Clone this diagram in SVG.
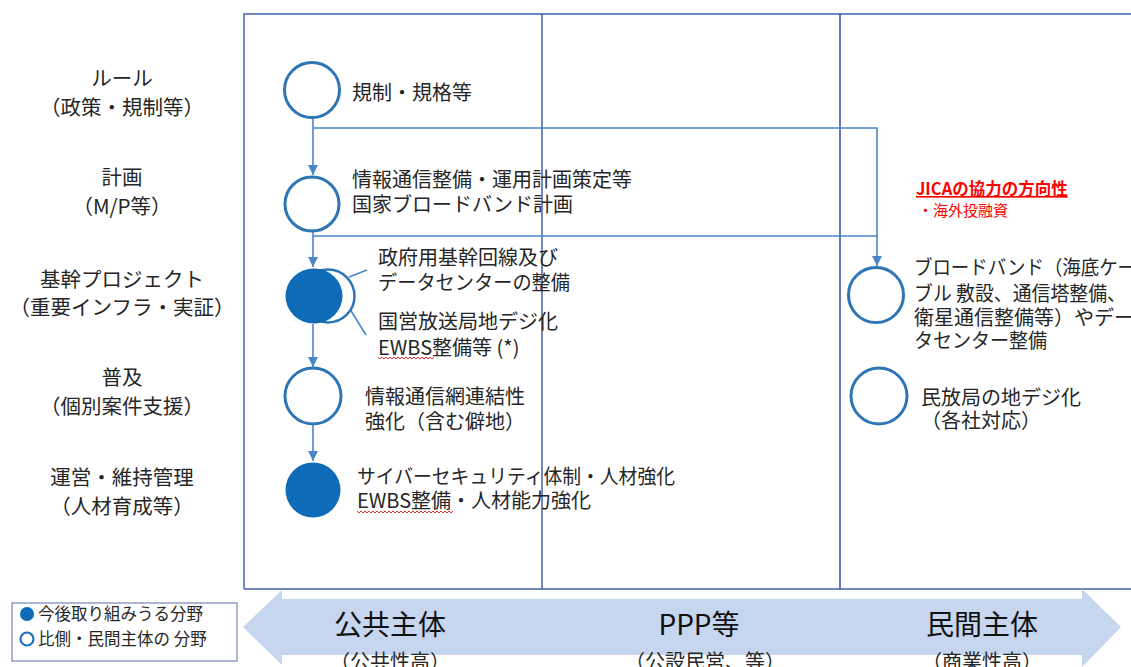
<svg xmlns="http://www.w3.org/2000/svg" width="1131" height="667" viewBox="0 0 1131 667">
<style>
text{font-family:"Noto Sans CJK JP","Noto Sans",sans-serif;fill:#262626}
.lbl{font-size:20.5px;text-anchor:middle}
.t{font-size:20px}
.big{font-size:28px;text-anchor:middle;font-weight:400;fill:#111}
.sub{font-size:20px;text-anchor:middle}
.ring{fill:#fff;stroke:#2e75b6;stroke-width:3}
.dot{fill:#0f6ab8}
.conn{fill:none;stroke:#4a86c8;stroke-width:1.6}
.wavy{fill:none;stroke:#e03030;stroke-width:1}
</style>
<defs>
<marker id="ah" viewBox="0 0 10 10" refX="10" refY="5" markerWidth="10" markerHeight="10" markerUnits="userSpaceOnUse" orient="auto">
<path d="M0,0 L10,5 L0,10 Z" fill="#4a86c8"/>
</marker>
</defs>
<rect width="1131" height="667" fill="#fff"/>
<g id="frame">
<path d="M244,589 V14 H1131" fill="none" stroke="#7088c0" stroke-width="2"/>
<path d="M244,589 H1131" fill="none" stroke="#7088c0" stroke-width="2"/>
<line x1="542" y1="14" x2="542" y2="589" stroke="#3a55a5" stroke-width="1.4"/>
<line x1="840" y1="14" x2="840" y2="589" stroke="#3a55a5" stroke-width="1.6"/>
</g>
<g id="rowlabels">
<text class="lbl" x="122" y="86">ルール</text>
<text class="lbl" x="122" y="115">（政策・規制等）</text>
<text class="lbl" x="122" y="185">計画</text>
<text class="lbl" x="122" y="214">（M/P等）</text>
<text class="lbl" x="122" y="287">基幹プロジェクト</text>
<text class="lbl" x="122" y="315">（重要インフラ・実証）</text>
<text class="lbl" x="122" y="385">普及</text>
<text class="lbl" x="122" y="414">（個別案件支援）</text>
<text class="lbl" x="122" y="485">運営・維持管理</text>
<text class="lbl" x="122" y="514">（人材育成等）</text>
</g>
<g id="arrow">
<path d="M243,627 L282,590 L282,599 L1082,599 L1082,589 L1121,627 L1082,667 L1082,655 L282,655 L282,665 Z" fill="#c6d6ee"/>
<text class="big" x="390" y="635">公共主体</text>
<text class="sub" x="390" y="669">（公共性高）</text>
<text class="big" x="699" y="635">PPP等</text>
<text class="sub" x="705" y="669">（公設民営、等）</text>
<text class="big" x="982" y="635">民間主体</text>
<text class="sub" x="982" y="669">（商業性高）</text>
</g>
<g id="legend">
<rect x="12" y="603" width="225" height="58" fill="#fff" stroke="#5b6fa8" stroke-width="1"/>
<circle cx="27" cy="614" r="7" class="dot"/>
<circle cx="27" cy="639" r="6.5" fill="#fff" stroke="#1f6fc0" stroke-width="2.2"/>
<text x="38" y="620" style="font-size:16.5px">今後取り組みうる分野</text>
<text x="38" y="645" style="font-size:16.5px">比側・民間主体の 分野</text>
</g>
<g id="connectors">
<line class="conn" x1="313" y1="118" x2="313" y2="175" marker-end="url(#ah)"/>
<polyline class="conn" points="313,128 877,128 877,266" marker-end="url(#ah)"/>
<line class="conn" x1="313" y1="232" x2="313" y2="267" marker-end="url(#ah)"/>
<line class="conn" x1="313" y1="236" x2="877" y2="236"/>
<line class="conn" x1="313" y1="324" x2="313" y2="367" marker-end="url(#ah)"/>
<line class="conn" x1="313" y1="425" x2="313" y2="461" marker-end="url(#ah)"/>
<line class="conn" x1="349" y1="277" x2="367" y2="270"/>
<line class="conn" x1="340" y1="293" x2="366" y2="335"/>
</g>
<g id="n1">
<circle cx="312" cy="90" r="27.5" class="ring"/>
<text class="t" x="352" y="100">規制・規格等</text>
</g>
<g id="n2">
<circle cx="312" cy="204" r="27" class="ring"/>
<text class="t" x="352" y="187">情報通信整備・運用計画策定等</text>
<text class="t" x="352" y="212">国家ブロードバンド計画</text>
</g>
<g id="n3">
<circle cx="328" cy="296" r="26.5" fill="#fff" stroke="#2e75b6" stroke-width="2.5"/>
<ellipse cx="314" cy="296" rx="28.5" ry="27.5" class="dot"/>
<text class="t" x="378" y="265">政府用基幹回線及び</text>
<text class="t" x="378" y="290" textLength="192" lengthAdjust="spacingAndGlyphs">データセンターの整備</text>
<text class="t" x="378" y="329">国営放送局地デジ化</text>
<text class="t" x="378" y="355">EWBS整備等 (*)</text>
<path class="wavy" d="M378,357 l2,2 l2,-2 l2,2 l2,-2 l2,2 l2,-2 l2,2 l2,-2 l2,2 l2,-2 l2,2 l2,-2 l2,2 l2,-2 l2,2 l2,-2 l2,2 l2,-2 l2,2 l2,-2 l2,2 l2,-2 l2,2 l2,-2 l2,2 l2,-2 l2,2 l2,-2"/>
</g>
<g id="n4">
<circle cx="313" cy="396" r="28" class="ring"/>
<text class="t" x="365" y="404">情報通信網連結性</text>
<text class="t" x="365" y="429">強化（含む僻地）</text>
</g>
<g id="n5">
<circle cx="313" cy="490" r="27.5" class="dot"/>
<text class="t" x="357" y="484" textLength="318" lengthAdjust="spacingAndGlyphs">サイバーセキュリティ体制・人材強化</text>
<text class="t" x="357" y="508">EWBS整備・人材能力強化</text>
<path class="wavy" d="M357,511 l2,2 l2,-2 l2,2 l2,-2 l2,2 l2,-2 l2,2 l2,-2 l2,2 l2,-2 l2,2 l2,-2 l2,2 l2,-2 l2,2 l2,-2 l2,2 l2,-2 l2,2 l2,-2 l2,2 l2,-2 l2,2 l2,-2 l2,2 l2,-2 l2,2 l2,-2 l2,2 l2,-2 l2,2 l2,-2 l2,2 l2,-2 l2,2 l2,-2 l2,2 l2,-2 l2,2 l2,-2 l2,2 l2,-2 l2,2 l2,-2 l2,2 l2,-2 l2,2 l2,-2"/>
</g>
<g id="jica">
<text x="916" y="195" style="font-size:16.5px;font-weight:bold;fill:#ff0000;text-decoration:underline">JICAの協力の方向性</text>
<text x="918" y="216" style="font-size:15px;fill:#ff0000">・海外投融資</text>
</g>
<g id="n6">
<circle cx="876" cy="295" r="27.5" class="ring"/>
<text class="t" x="914" y="275" textLength="222" lengthAdjust="spacingAndGlyphs">ブロードバンド（海底ケー</text>
<text class="t" x="914" y="301" textLength="212" lengthAdjust="spacingAndGlyphs">ブル 敷設、通信塔整備、</text>
<text class="t" x="914" y="325" textLength="220" lengthAdjust="spacingAndGlyphs">衛星通信整備等）やデー</text>
<text class="t" x="914" y="348" textLength="133" lengthAdjust="spacingAndGlyphs">タセンター整備</text>
</g>
<g id="n7">
<circle cx="879" cy="396" r="28" class="ring"/>
<text class="t" x="921" y="405">民放局の地デジ化</text>
<text class="t" x="921" y="428">（各社対応）</text>
</g>
</svg>
